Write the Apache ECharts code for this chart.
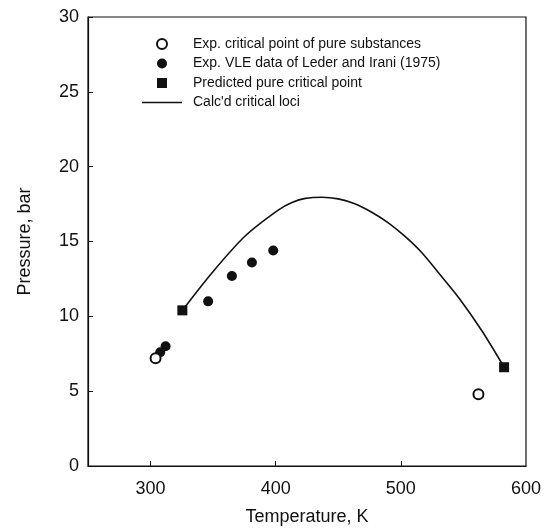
<!DOCTYPE html>
<html>
<head>
<meta charset="utf-8">
<script src="https://cdn.jsdelivr.net/npm/echarts@6/dist/echarts.min.js"></script>
<style>
  html, body { margin: 0; padding: 0; background: #fff; }
  #chart { width: 544px; height: 531px; }
</style>
</head>
<body>
<div id="chart"></div>
<script>
// data (T in K, P in bar)
const expCritical = [[304.0, 7.2], [562.0, 4.8]]
const expVLE = [[307.7, 7.6], [312.0, 8.0], [346.0, 11.0], [365.0, 12.7], [381.0, 13.6], [398.0, 14.4]]
const predCritical = [[325.4, 10.4], [582.5, 6.6]]
const calcLoci = [
  [325.4, 10.4], [350, 13.0], [376, 15.4], [402, 17.1], [413, 17.6], [423.6, 17.88],
  [436.8, 17.96], [450, 17.85], [463.2, 17.52], [476.4, 16.97], [489.7, 16.26],
  [502.9, 15.37], [516.1, 14.31], [529.4, 12.98], [546.6, 11.21], [565, 9.0], [582.5, 6.6]
]
const xLabels = [300, 400, 500, 600]
const xTicks = [300, 400, 500]

const font = 'Liberation Sans, Arial, sans-serif'
const ink = '#111'

const chart = echarts.init(document.getElementById('chart'))
const option = {
  animation: false,
  grid: {
    left: 88,
    right: 15,
    top: 17,
    bottom: 62,
    show: true,
    borderColor: ink,
    borderWidth: 1.2
  },
  legend: {
    orient: 'vertical',
    left: 137,
    top: 32,
    itemWidth: 40,
    itemHeight: 10,
    itemGap: 5.5,
    selectedMode: false,
    data: [
      { name: 'Exp. critical point of pure substances', itemStyle: { borderWidth: 1.2 } },
      { name: 'Exp. VLE data of Leder and Irani (1975)' },
      { name: 'Predicted pure critical point', icon: 'path://M0 0H10V10H0Z' },
      { name: "Calc'd critical loci", icon: 'path://M0 0H40V1.3H0Z' }
    ],
    textStyle: { fontFamily: font, fontSize: 14, color: ink, padding: [0, 0, 0, 6] }
  },
  xAxis: {
    type: 'value',
    min: 250,
    max: 600,
    name: 'Temperature, K',
    nameLocation: 'middle',
    nameGap: 42,
    nameTextStyle: { fontFamily: font, fontSize: 18, color: ink },
    splitLine: { show: false },
    axisLine: { lineStyle: { color: ink, width: 1.2 } },
    axisTick: { inside: true, length: 5, customValues: xTicks, lineStyle: { color: ink } },
    axisLabel: { customValues: xLabels, margin: 14, fontFamily: font, fontSize: 18, color: ink }
  },
  yAxis: {
    type: 'value',
    min: 0,
    max: 30,
    interval: 5,
    name: 'Pressure, bar',
    nameLocation: 'middle',
    nameGap: 54,
    nameTextStyle: { fontFamily: font, fontSize: 18, color: ink },
    splitLine: { show: false },
    axisLine: { lineStyle: { color: ink, width: 1.2 } },
    axisTick: { inside: true, length: 5, lineStyle: { color: ink } },
    axisLabel: { margin: 9, fontFamily: font, fontSize: 18, color: ink }
  },
  series: [
    {
      name: "Calc'd critical loci",
      type: 'line',
      data: calcLoci,
      smooth: 0.3,
      symbol: 'none',
      lineStyle: { color: ink, width: 1.6 },
      itemStyle: { color: ink },
      z: 1
    },
    {
      name: 'Exp. VLE data of Leder and Irani (1975)',
      type: 'scatter',
      data: expVLE,
      symbol: 'circle',
      symbolSize: 10,
      itemStyle: { color: ink, opacity: 1 }
    },
    {
      name: 'Exp. critical point of pure substances',
      type: 'scatter',
      data: expCritical,
      symbol: 'emptyCircle',
      symbolSize: 10,
      itemStyle: { color: ink, borderColor: ink, borderWidth: 1.2, opacity: 1 }
    },
    {
      name: 'Predicted pure critical point',
      type: 'scatter',
      data: predCritical,
      symbol: 'rect',
      symbolSize: 10,
      itemStyle: { color: ink, opacity: 1 }
    }
  ]
}
chart.setOption(option)
</script>
</body>
</html>
